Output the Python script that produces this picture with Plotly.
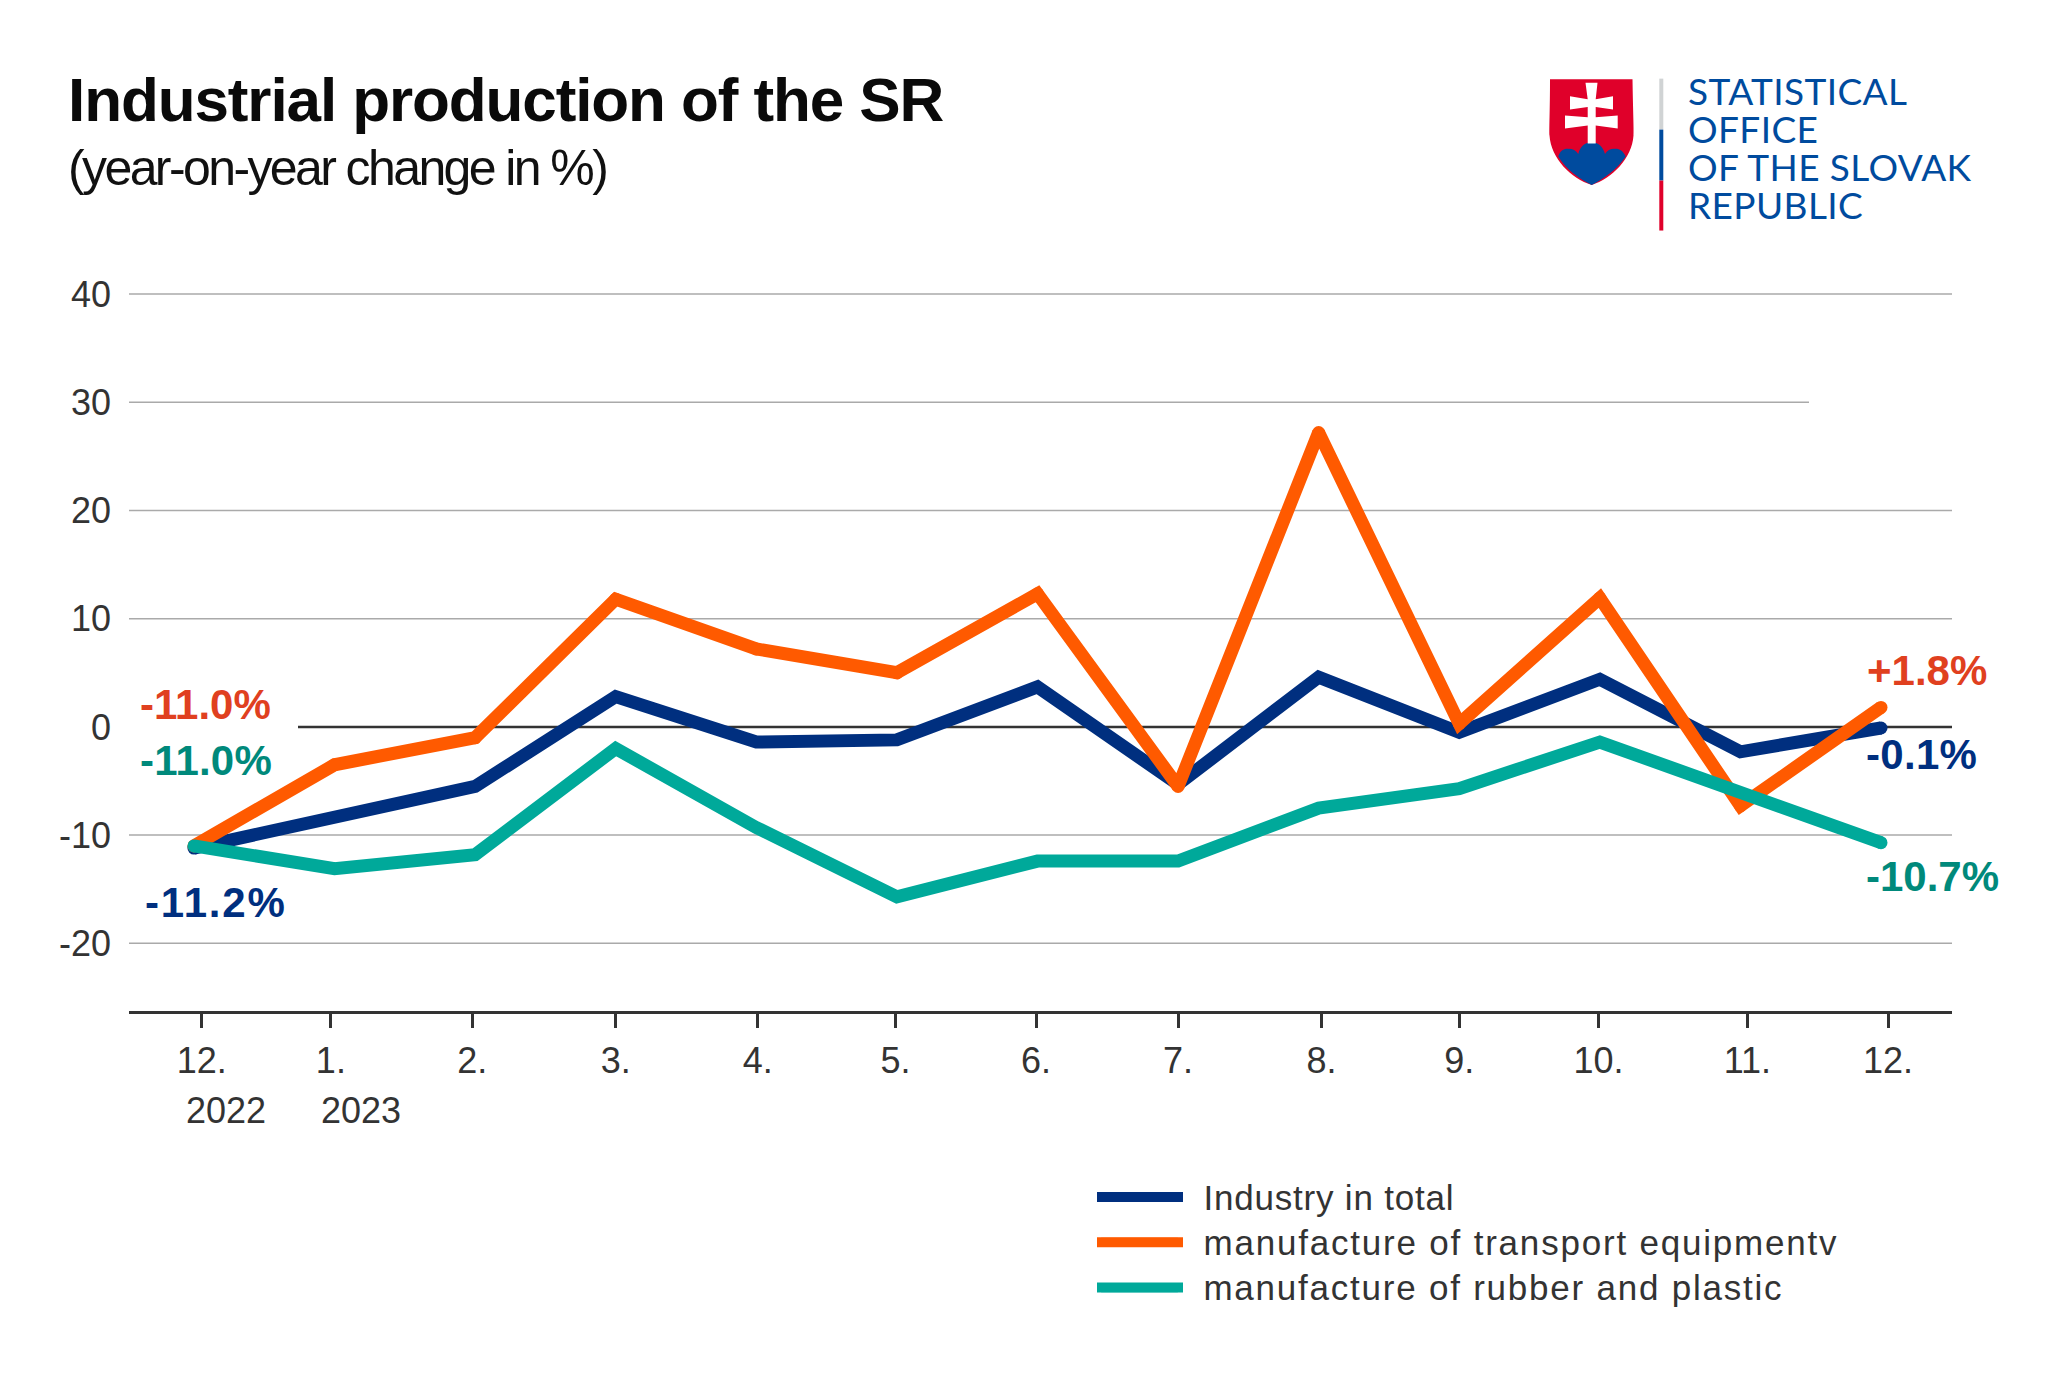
import plotly.graph_objects as go

# ---- data ----
months = ["12.", "1.", "2.", "3.", "4.", "5.", "6.", "7.", "8.", "9.", "10.", "11.", "12."]
period_index = list(range(13))
tick_positions = [0.055, 0.974, 1.98, 3.0, 4.01, 4.99, 5.99, 7.0, 8.02, 9.0, 9.99, 11.05, 12.05]
industry_total = [-11.2, -8.3, -5.5, 2.8, -1.4, -1.2, 3.7, -5.3, 4.6, -0.5, 4.4, -2.3, -0.1]
transport_equipment = [-11.0, -3.5, -1.0, 11.8, 7.2, 5.0, 12.3, -5.5, 27.2, 0.3, 11.9, -7.3, 1.8]
rubber_plastic = [-11.0, -13.1, -11.8, -2.0, -9.3, -15.7, -12.4, -12.4, -7.5, -5.7, -1.4, -6.1, -10.7]
y_gridlines = [-20, -10, 10, 20, 40]
short_gridline = 30
zero_line = 0
y_ticks = [-20, -10, 0, 10, 20, 30, 40]
y_tick_text = ["-20", "-10", "0", "10", "20", "30", "40"]
series_names = ["Industry in total", "manufacture of transport equipmentv", "manufacture of rubber and plastic"]
year_labels = ["2022", "2023"]
logo_lines = ["STATISTICAL", "OFFICE", "OF THE SLOVAK", "REPUBLIC"]

# ---- style ----
NAVY, ORANGE, TEAL = "#002f7f", "#ff5a00", "#00a99a"
LBL_ORANGE, LBL_TEAL, LBL_NAVY = "#e0401f", "#00897b", "#002f7f"
INK = "#333333"
LOGO_BLUE, LOGO_RED = "#004b9e", "#e0002a"
FONT = "Liberation Sans"
L, R, T, B = 129.0, 1952.0, 283.5, 1011.0
W, H = 2048, 1391
Y0_PX, PX_PER_UNIT = 726.7, 10.83
LINE_W = 13


def xp(px):
    return (px - L) / (R - L)


def yp(py):
    return (B - py) / (B - T)


def path(points, close=True):
    d = ""
    for item in points:
        if item[0] == "C":
            d += "C" + " ".join(f"{xp(item[i])},{yp(item[i + 1])}" for i in (1, 3, 5))
        else:
            d += ("M" if not d else "L") + f"{xp(item[0])},{yp(item[1])}"
    return d + ("Z" if close else "")


def spaced(text, px):
    return f'<span style="letter-spacing:{px}px">{text}</span>'


def legend_label(text, px):
    lead = f'<span style="letter-spacing:5.7px;font-size:35px">\u00a0</span>'
    return lead + f'<span style="letter-spacing:{px}px;font-size:35px">{text}</span>'


fig = go.Figure()
series = [industry_total, transport_equipment, rubber_plastic]
colours = [NAVY, ORANGE, TEAL]
legend_spacing = [0.8, 1.8, 1.77]
# the orange line has rounded corners at every point, the other two only at their ends
cap_points = [[0, 12], period_index, [0, 12]]
for name, vals, col, sp, caps in zip(series_names, series, colours, legend_spacing, cap_points):
    fig.add_trace(go.Scatter(x=period_index, y=vals, mode="lines", name=legend_label(name, sp),
                             line=dict(color=col, width=LINE_W), hoverinfo="x+y"))
    fig.add_trace(go.Scatter(x=caps, y=[vals[i] for i in caps], mode="markers", showlegend=False, hoverinfo="skip",
                             marker=dict(color=col, size=LINE_W, line=dict(width=0))))

shapes = []
for v in y_gridlines:
    shapes.append(dict(type="line", xref="paper", yref="y", x0=0, x1=1, y0=v, y1=v, layer="below",
                       line=dict(color="#aaaaaa", width=1.5)))
shapes.append(dict(type="line", xref="paper", yref="y", x0=0, x1=xp(1809), y0=short_gridline, y1=short_gridline,
                   layer="below", line=dict(color="#aaaaaa", width=1.5)))
shapes.append(dict(type="line", xref="paper", yref="y", x0=xp(298), x1=1, y0=zero_line, y1=zero_line, layer="below",
                   line=dict(color="#333333", width=2.5)))

# logo separator
for y0, y1, c in [(78, 129, "#d0d3d4"), (129, 180, LOGO_BLUE), (180, 230, LOGO_RED)]:
    shapes.append(dict(type="line", xref="paper", yref="paper", x0=xp(1661.3), x1=xp(1661.3), y0=yp(y0), y1=yp(y1),
                       line=dict(color=c, width=4)))
# shield
shield = [(1550, 78.5), (1632.5, 78.5), ("C", 1633, 110, 1634, 130, 1633.5, 135),
          ("C", 1632, 158, 1612, 178, 1591.7, 184.5), ("C", 1571, 178, 1551, 158, 1549.5, 135),
          ("C", 1549, 130, 1550, 110, 1550, 78.5)]
shapes.append(dict(type="path", xref="paper", yref="paper", path=path(shield), fillcolor=LOGO_RED, line=dict(width=0)))
mount = [(1558.3, 156), ("C", 1560, 150, 1564, 148, 1568.3, 148.3), ("C", 1572, 148, 1576, 150, 1578.3, 153.3),
         ("C", 1580, 146, 1585, 141.7, 1591.7, 141.7), ("C", 1598, 141.7, 1603, 146, 1605, 153.3),
         ("C", 1607, 150, 1611, 148, 1615, 148.3), ("C", 1619, 148, 1623, 150, 1625.7, 156),
         ("C", 1616, 170, 1604, 178, 1591.7, 184.5), ("C", 1579, 178, 1567, 170, 1558.3, 156)]
shapes.append(dict(type="path", xref="paper", yref="paper", path=path(mount), fillcolor=LOGO_BLUE, line=dict(width=0)))
cross = [(1585.5, 82), (1597.5, 82), (1595.7, 98.5), (1613, 95.7), (1613, 109), (1595.7, 106.5), (1595.7, 116.7),
         (1617.7, 115), (1617.7, 128), (1595.7, 125), (1595.7, 143), (1587.7, 143), (1587.7, 125), (1565, 128),
         (1565, 115), (1587.7, 116.7), (1587.7, 106.5), (1570, 109), (1570, 95.7), (1587.7, 98.5)]
shapes.append(dict(type="path", xref="paper", yref="paper", path=path(cross), fillcolor="#ffffff", line=dict(width=0)))

# thicker, rounded legend keys beneath the legend's own keys
for col, cy in zip(colours, [1197.5, 1242.5, 1288]):
    r = 4.5
    x0, x1 = 1097, 1182
    pill = [(x0 + r, cy - r), (x1 - r, cy - r), ("C", x1, cy - r, x1, cy + r, x1 - r, cy + r), (x0 + r, cy + r),
            ("C", x0, cy + r, x0, cy - r, x0 + r, cy - r)]
    shapes.append(dict(type="path", xref="paper", yref="paper", path=path(pill), fillcolor=col, line=dict(width=0)))

ann = []
# end labels, anchored on the series' values
label_spec = [
    (0, transport_equipment[0], LBL_ORANGE, -56, 141, 0),
    (0, rubber_plastic[0], LBL_TEAL, -56, 85, 0.2),
    (0, industry_total[0], LBL_NAVY, -51, -54, 1.8),
    (12, transport_equipment[-1], LBL_ORANGE, -16, 36.5, 0),
    (12, industry_total[-1], LBL_NAVY, -17, -27, 0.3),
    (12, rubber_plastic[-1], LBL_TEAL, -17, -34, 0),
]
for x, v, col, dx, dy, sp in label_spec:
    ann.append(dict(x=x, y=v, xref="x", yref="y", text=f"<b>{spaced(f'{v:+.1f}%', sp)}</b>", showarrow=False,
                    xanchor="left", yanchor="middle", xshift=dx, yshift=dy,
                    font=dict(family=FONT, size=42, color=col)))
# year labels under the month ticks
for t, left in zip(year_labels, [183.5, 319]):
    ann.append(dict(x=xp(left), y=yp(1111), xref="paper", yref="paper", text=t, showarrow=False, xanchor="left",
                    yanchor="middle", font=dict(family=FONT, size=36, color=INK)))
# subtitle
ann.append(dict(x=xp(65.5), y=yp(167), xref="paper", yref="paper", text=spaced("(year-on-year change in %)", -2.6),
                showarrow=False, xanchor="left", yanchor="middle", font=dict(family=FONT, size=50, color="#111111")))
# logo text: one text block, the line pitch comes from the base size
logo_text = "<br>".join(f'<span style="letter-spacing:0.4px;font-size:37px">{s}</span>' for s in logo_lines)
ann.append(dict(x=xp(1685.5), y=yp(146.5), xref="paper", yref="paper", text=logo_text, showarrow=False, align="left",
                xanchor="left", yanchor="middle", font=dict(family="Lato", size=29.2, color=LOGO_BLUE)))

fig.update_layout(
    width=W, height=H, paper_bgcolor="white", plot_bgcolor="white",
    margin=dict(l=L, r=W - R, t=T, b=H - B, pad=0, autoexpand=False),
    font=dict(family=FONT, color=INK, size=35),
    title=dict(text=f"<b>{spaced('Industrial production of the SR', -1.1)}</b>", x=68 / W, xanchor="left",
               y=1 - 99 / H, yanchor="middle", font=dict(family=FONT, size=62, color="#0a0a0a")),
    xaxis=dict(range=[-0.462, 12.505], tickmode="array", tickvals=tick_positions, ticktext=months, showgrid=False,
               zeroline=False, showline=True, linecolor="#333333", linewidth=3, ticks="outside", ticklen=14,
               tickwidth=2.5, tickcolor="#333333", tickfont=dict(family=FONT, size=36, color=INK),
               ticklabelstandoff=2),
    yaxis=dict(range=[(Y0_PX - B) / PX_PER_UNIT, (Y0_PX - T) / PX_PER_UNIT], tickmode="array", tickvals=y_ticks,
               ticktext=y_tick_text, showgrid=False, zeroline=False, showline=False, ticks="",
               tickfont=dict(family=FONT, size=36, color=INK), ticklabelstandoff=17),
    legend=dict(x=xp(1092), y=yp(1169.5), xanchor="left", yanchor="top", orientation="v", itemwidth=86,
                font=dict(family=FONT, size=32.5, color=INK), bgcolor="rgba(0,0,0,0)"),
    shapes=shapes, annotations=ann, showlegend=True,
)
fig.write_html("out.html", post_script="document.body.style.margin='0';", config={"displayModeBar": False})
